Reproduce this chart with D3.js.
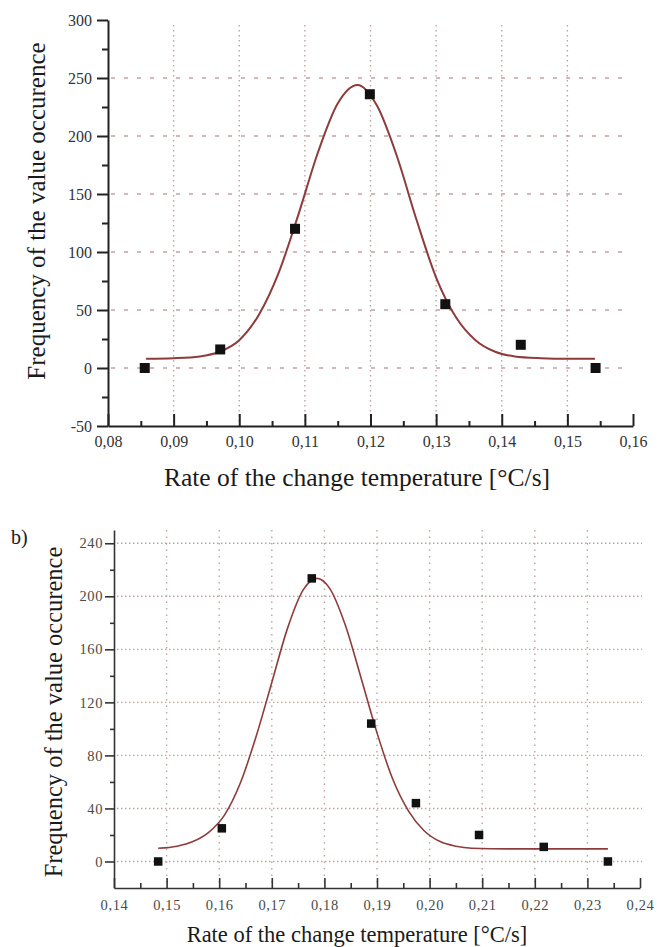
<!DOCTYPE html>
<html>
<head>
<meta charset="utf-8">
<script src="https://cdn.jsdelivr.net/npm/d3@7"></script>
<style>
  html, body { margin: 0; padding: 0; background: #fff; }
  svg { display: block; }
  text { font-family: "Liberation Serif", "Times New Roman", serif; }
</style>
</head>
<body>
<svg id="chart" width="660" height="947"></svg>
<script>
// ---------- DATA ----------
// Panel a)
const topPointsX = [0.0856, 0.0971, 0.1085, 0.1199, 0.1314, 0.1429, 0.1543];
const topPointsY = [0, 16, 120, 236, 55, 20, 0];
const topCurveX = [0.0858, 0.090, 0.094, 0.097, 0.100, 0.103, 0.106, 0.109, 0.112, 0.115, 0.118, 0.121, 0.124, 0.127, 0.130, 0.133, 0.136, 0.139, 0.142, 0.146, 0.150, 0.1542];
const topCurveY = [8, 8.5, 10, 14, 24, 46, 82, 132, 186, 228, 244, 226, 183, 128, 78, 44, 24, 14, 10, 8.5, 8, 8];
const topXTicks = [0.08, 0.09, 0.10, 0.11, 0.12, 0.13, 0.14, 0.15, 0.16];
const topYTicks = [-50, 0, 50, 100, 150, 200, 250, 300];

// Panel b)
const botPointsX = [0.1484, 0.1605, 0.1776, 0.1889, 0.1974, 0.2094, 0.2217, 0.2339];
const botPointsY = [0, 25, 213.5, 104, 44, 20, 11, 0];
const botCurveX = [0.1484, 0.152, 0.155, 0.158, 0.161, 0.164, 0.167, 0.170, 0.173, 0.176, 0.1786, 0.181, 0.184, 0.187, 0.190, 0.193, 0.196, 0.199, 0.202, 0.205, 0.208, 0.215, 0.2339];
const botCurveY = [10, 11.5, 15, 22, 35, 59, 94, 135, 176, 205, 213.5, 206, 178, 138, 97, 62, 38, 23, 15, 11.5, 10, 9.5, 9.5];
const botXTicks = [0.14, 0.15, 0.16, 0.17, 0.18, 0.19, 0.20, 0.21, 0.22, 0.23, 0.24];
const botYTicks = [0, 40, 80, 120, 160, 200, 240];

const yLabel = "Frequency of the value occurence";
const xLabel = "Rate of the change temperature [\u00B0C/s]";
const panelLabel = "b)";

// ---------- DRAW ----------
const svg = d3.select("#chart");
const SERIF = '"Liberation Serif", "Times New Roman", serif';
const fmt = v => d3.format(".2f")(v).replace(".", ",");
const fmtY = v => String(v);
const curveColor = "#8e3b3b";
const gridColor = "#c2a2a2";

function panel(cfg) {
  const g = svg.append("g");
  const x = d3.scaleLinear().domain(cfg.xDomain).range(cfg.xRange);
  const y = d3.scaleLinear().domain(cfg.yDomain).range(cfg.yRange);

  // grid
  g.append("g").selectAll("line").data(cfg.hGrid).join("line")
    .attr("x1", cfg.hGridX[0]).attr("x2", cfg.hGridX[1])
    .attr("y1", d => y(d)).attr("y2", d => y(d))
    .attr("stroke", gridColor).attr("stroke-width", 1.4)
    .attr("stroke-dasharray", cfg.hDash);
  g.append("g").selectAll("line").data(cfg.vGrid).join("line")
    .attr("x1", d => x(d)).attr("x2", d => x(d))
    .attr("y1", cfg.vGridY[0]).attr("y2", cfg.vGridY[1])
    .attr("stroke", gridColor).attr("stroke-width", 1.4)
    .attr("stroke-dasharray", cfg.vDash);

  // minor ticks
  const xMinor = d3.range(cfg.xTicks.length - 1).map(i => (cfg.xTicks[i] + cfg.xTicks[i + 1]) / 2);
  const yMinor = d3.range(cfg.yTicks.length - 1).map(i => (cfg.yTicks[i] + cfg.yTicks[i + 1]) / 2);
  const xAxisY = cfg.yRange[0];
  const yAxisX = cfg.xRange[0];

  g.append("g").attr("transform", `translate(0,${xAxisY})`)
    .call(d3.axisBottom(x).tickValues(xMinor).tickSize(-cfg.minorLen).tickSizeOuter(0).tickFormat(""))
    .call(a => a.select(".domain").remove())
    .call(a => a.selectAll("line").attr("stroke", cfg.axisColor).attr("stroke-width", cfg.axisW));
  g.append("g").attr("transform", `translate(${yAxisX},0)`)
    .call(d3.axisLeft(y).tickValues(yMinor).tickSize(cfg.yMinorLen).tickSizeOuter(0).tickFormat(""))
    .call(a => a.select(".domain").remove())
    .call(a => a.selectAll("line").attr("stroke", cfg.axisColor).attr("stroke-width", cfg.axisW));

  // major axes
  const xa = g.append("g").attr("transform", `translate(0,${xAxisY})`)
    .call(d3.axisBottom(x).tickValues(cfg.xTicks).tickSize(-cfg.majorLen).tickSizeOuter(0)
      .tickPadding(cfg.xPad).tickFormat(fmt));
  xa.attr("font-family", null).attr("font-size", null);
  xa.select(".domain").attr("stroke", cfg.axisColor).attr("stroke-width", cfg.axisW);
  xa.selectAll("line").attr("stroke", cfg.axisColor).attr("stroke-width", cfg.axisW);
  xa.selectAll("text")
    .style("font-family", SERIF).style("font-size", cfg.tickFont + "px")
    .attr("fill", cfg.tickColor).attr("letter-spacing", cfg.tickLS);

  const ya = g.append("g").attr("transform", `translate(${yAxisX},0)`)
    .call(d3.axisLeft(y).tickValues(cfg.yTicks).tickSize(cfg.yMajorLen).tickSizeOuter(0)
      .tickPadding(cfg.yPad).tickFormat(fmtY));
  ya.attr("font-family", null).attr("font-size", null);
  ya.select(".domain").attr("stroke", cfg.axisColor).attr("stroke-width", cfg.axisW);
  ya.selectAll("line").attr("stroke", cfg.axisColor).attr("stroke-width", cfg.axisW);
  ya.selectAll("text")
    .style("font-family", SERIF).style("font-size", cfg.tickFont + "px")
    .attr("fill", cfg.tickColor).attr("letter-spacing", cfg.tickLS);

  // fitted curve
  const line = d3.line().x(d => x(d[0])).y(d => y(d[1])).curve(d3.curveMonotoneX);
  g.append("path").datum(d3.zip(cfg.curveX, cfg.curveY))
    .attr("d", line).attr("fill", "none")
    .attr("stroke", curveColor).attr("stroke-width", cfg.curveW);

  // points
  const s = cfg.markerSize;
  g.append("g").selectAll("rect").data(d3.zip(cfg.px, cfg.py)).join("rect")
    .attr("x", d => x(d[0]) - s / 2).attr("y", d => y(d[1]) - s / 2)
    .attr("width", s).attr("height", s).attr("fill", "#111");

  // labels
  g.append("text").attr("transform", `translate(${cfg.yLabelPos[0]},${cfg.yLabelPos[1]}) rotate(-90)`)
    .attr("text-anchor", "middle").style("font-size", cfg.labelFontY + "px").attr("fill", "#1a1a1a")
    .text(yLabel);
  g.append("text").attr("x", cfg.xLabelPos[0]).attr("y", cfg.xLabelPos[1])
    .attr("text-anchor", "middle").style("font-size", cfg.labelFontX + "px").attr("fill", "#1a1a1a")
    .text(xLabel);
}

panel({
  xDomain: [0.08, 0.16], xRange: [108, 633],
  yDomain: [-50, 300], yRange: [426, 20],
  xTicks: topXTicks, yTicks: topYTicks,
  hGrid: [0, 50, 100, 150, 200, 250], hGridX: [111, 623], hDash: "4,9",
  vGrid: [0.09, 0.10, 0.11, 0.12, 0.13, 0.14, 0.15], vGridY: [25, 424], vDash: "1.5,3.5",
  majorLen: 12, minorLen: 5, yMajorLen: 11, yMinorLen: 6,
  axisColor: "#222", axisW: 2,
  xPad: 10, yPad: 5, tickFont: 16, tickColor: "#333", tickLS: 0,
  curveX: topCurveX, curveY: topCurveY, curveW: 2,
  px: topPointsX, py: topPointsY, markerSize: 10,
  yLabelPos: [45, 211], xLabelPos: [357, 486], labelFontY: 25, labelFontX: 25.5
});

panel({
  xDomain: [0.14, 0.24], xRange: [114, 640],
  yDomain: [-20, 250], yRange: [888, 530],
  xTicks: botXTicks, yTicks: botYTicks,
  hGrid: [0, 40, 80, 120, 160, 200, 240], hGridX: [117, 642], hDash: "1.5,2.5",
  vGrid: [0.15, 0.16, 0.17, 0.18, 0.19, 0.20, 0.21, 0.22, 0.23], vGridY: [530, 886], vDash: "1.5,5",
  majorLen: 10, minorLen: 5, yMajorLen: 9, yMinorLen: 4,
  axisColor: "#333", axisW: 1.6,
  xPad: 12, yPad: 2, tickFont: 14.5, tickColor: "#4a4a4a", tickLS: 0.6,
  curveX: botCurveX, curveY: botCurveY, curveW: 1.6,
  px: botPointsX, py: botPointsY, markerSize: 8.5,
  yLabelPos: [62, 712], xLabelPos: [357, 942], labelFontY: 24.5, labelFontX: 22.5
});

svg.append("text").attr("x", 11).attr("y", 544)
  .style("font-size", "20px").attr("fill", "#1a1a1a").text(panelLabel);
</script>
</body>
</html>
